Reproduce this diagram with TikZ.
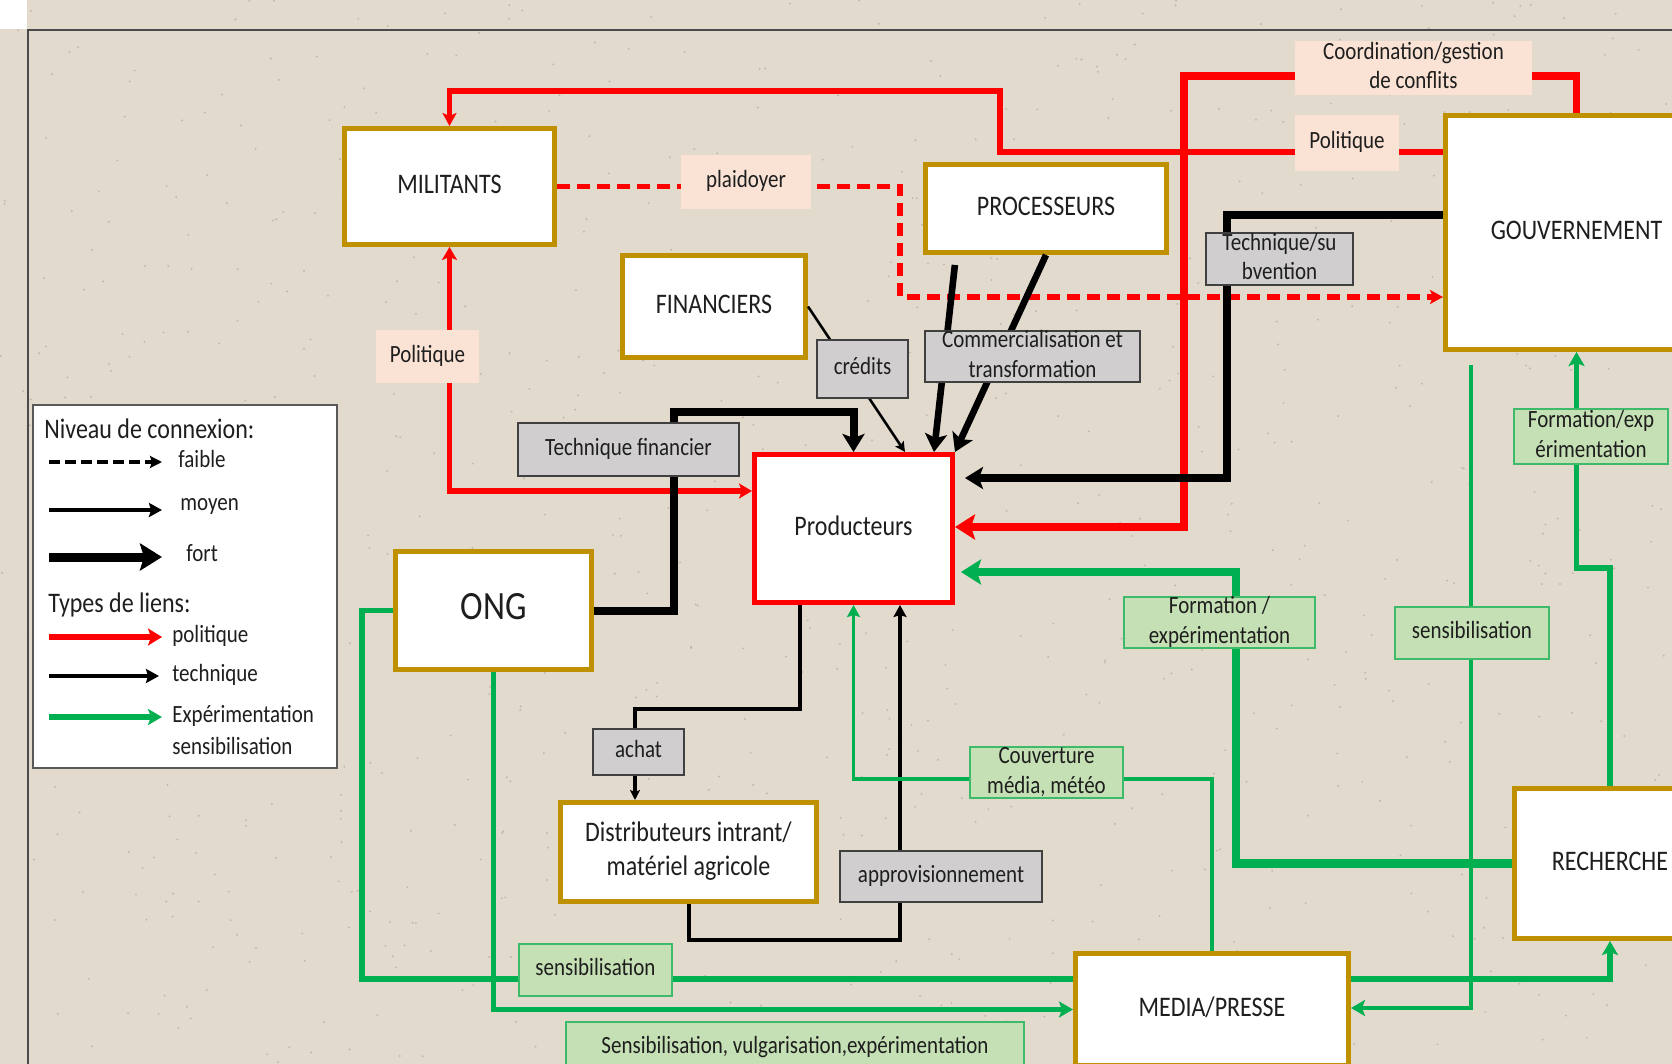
\documentclass[tikz,border=0pt]{standalone}
\usepackage{fontspec}
\setmainfont{Carlito}
\usepackage{graphicx}
\usetikzlibrary{arrows.meta,calc}
\definecolor{bg}{HTML}{E2DACD}
\definecolor{speck}{HTML}{A89E8E}
\definecolor{framec}{HTML}{4A4A4A}
\definecolor{gold}{HTML}{BF9000}
\definecolor{redc}{HTML}{FF0000}
\definecolor{grc}{HTML}{00B050}
\definecolor{peach}{HTML}{FAE3D5}
\definecolor{lgray}{HTML}{D0CECE}
\definecolor{dgray}{HTML}{404040}
\definecolor{lgreen}{HTML}{C5E0B4}
\definecolor{mgreen}{HTML}{3DBB6A}
\definecolor{txt}{HTML}{1E1E1E}
\definecolor{legb}{HTML}{595959}
\newcommand\vt[1]{\scalebox{1}[1.18]{\begin{tabular}{@{}c@{}}#1\end{tabular}}}
\tikzset{
  box/.style={draw=gold, line width=2.5pt, fill=white, inner sep=0pt, text=txt,
    font=\fontsize{12}{14.4}\selectfont},
  redbox/.style={box, draw=redc},
  labtxt/.style={inner sep=0pt, text=txt, font=\fontsize{10.5}{12.6}\selectfont},
  redlab/.style={fill=peach, inner sep=0pt},
  graylab/.style={fill=lgray, draw=dgray, line width=1.4pt, inner sep=0pt},
  greenlab/.style={fill=lgreen, draw=mgreen, line width=1.4pt, inner sep=0pt},
  legtxt/.style={inner sep=0pt, anchor=west, text=txt, font=\fontsize{10.5}{12.6}\selectfont},
  leghead/.style={legtxt, font=\fontsize{12}{14.4}\selectfont},
  polmed/.style={draw=redc, line width=2.6pt},
  polthick/.style={draw=redc, line width=3.8pt},
  techthick/.style={draw=black, line width=4pt},
  techcomm/.style={draw=black, line width=3.3pt},
  techmed/.style={draw=black, line width=2pt},
  techthin/.style={draw=black, line width=1.3pt},
  grthick/.style={draw=grc, line width=4.2pt},
  grmed/.style={draw=grc, line width=2.6pt},
  grthin/.style={draw=grc, line width=1.9pt},
  tipBL/.style={-{Stealth[length=9pt,width=11pt,inset=2pt]}},
  tipRL/.style={-{Stealth[length=10pt,width=12.5pt,inset=2pt]}},
  tipRm/.style={-{Stealth[length=6.5pt,width=7pt,inset=1.5pt]}},
  tipRboth/.style={{Stealth[length=6.5pt,width=7.5pt,inset=1.5pt]}-{Stealth[length=6.5pt,width=7.5pt,inset=1.5pt]}},
  tipGm/.style={-{Stealth[length=7pt,width=8pt,inset=1.5pt]}},
  tipS/.style={-{Stealth[length=6pt,width=6.5pt,inset=1pt]}},
  tipXS/.style={-{Stealth[length=5pt,width=5pt,inset=1pt]}},
}
\begin{document}
\begin{tikzpicture}[x=0.5pt,y=-0.5pt]
\useasboundingbox (0,0) rectangle (1672,1064);
\clip (0,0) rectangle (1672,1064);
% background
\fill[bg] (0,0) rectangle (1672,1064);
\pgfmathsetseed{4242}
\foreach \i in {1,...,900}{\fill[speck, opacity=0.55] ({rnd*1672},{rnd*1064}) circle (0.55pt);}
\fill[white] (0,0) rectangle (27,29);
\draw[framec, line width=1pt] (28,1064) -- (28,30) -- (1672,30);

% main boxes
\node[box, minimum width=105pt, minimum height=58pt] (mil) at (449.5,186.5) {\vt{MILITANTS}};
\node[box, minimum width=91.5pt, minimum height=51pt] (fin) at (714,306.5) {\vt{FINANCIERS}};
\node[box, minimum width=120.5pt, minimum height=44pt] (proc) at (1046,208.5) {\vt{PROCESSEURS}};
\node[box, minimum width=131pt, minimum height=117pt] (gouv) at (1576.5,232.5) {\vt{GOUVERNEMENT}};
\node[redbox, minimum width=99pt, minimum height=74pt] (prod) at (853.5,528.5) {\vt{Producteurs}};
\node[box, minimum width=98pt, minimum height=59pt, font=\fontsize{17}{20}\selectfont] (ong) at (493.5,610.5) {\vt{ONG}};
\node[box, minimum width=128pt, minimum height=49.5pt] (dist) at (688.5,852) {\vt{Distributeurs intrant/\\mat\'eriel agricole}};
\node[box, minimum width=136.5pt, minimum height=56pt] (media) at (1212,1009.5) {\vt{MEDIA/PRESSE}};
\node[box, minimum width=95.5pt, minimum height=75pt] (rech) at (1610,863.5) {\vt{RECHERCHE}};

% connectors: politique (red)
\coordinate (c1) at (1000,152);
\coordinate (c2) at (1000,91);
\coordinate (c3) at (449.5,91);
\draw[polmed, tipRm] (gouv.west |- c1) -- (c1) -- (c2) -- (c3) -- (mil.north);
\coordinate (c4) at (1576.5,76);
\coordinate (c5) at (1184,76);
\coordinate (c6) at (1184,527);
\draw[polthick, tipRL] (gouv.north) -- (c4) -- (c5) -- (c6) -- (c6 -| prod.east);
\coordinate (c7) at (449.5,491);
\draw[polmed, tipRboth] (mil.south) -- (c7) -- (c7 -| prod.west);
\coordinate (c8) at (900,186.5);
\coordinate (c9) at (900,297);
\draw[polmed, tipRm, dash pattern=on 6.5pt off 3.5pt] (mil.east) -- (c8) -- (c9) -- (c9 -| gouv.west);

% connectors: technique (black)
\coordinate (c10) at (674,610.5);
\coordinate (c11) at (674,412);
\coordinate (c12) at (853.5,412);
\draw[techthick, tipBL] (ong.east) -- (c10) -- (c11) -- (c12) -- (prod.north);
\coordinate (c13) at (905,452);
\draw[techthin, tipXS] (fin.east) -- (prod.north -| c13);
\coordinate (c14) at (956,255);
\coordinate (c15) at (934,452);
\draw[techcomm, tipBL, shorten <=5pt] (proc.south -| c14) -- (prod.north -| c15);
\draw[techcomm, tipBL] (proc.south) -- (prod.north east);
\coordinate (c16) at (1227,215);
\coordinate (c17) at (1227,478);
\draw[techthick, tipBL, shorten >=5pt] (gouv.west |- c16) -- (c16) -- (c17) -- (c17 -| prod.east);
\coordinate (c29) at (688.5,940);
\coordinate (c30) at (900,940);
\draw[techmed, tipS] (dist.south) -- (c29) -- (c30) -- (prod.south -| c30);
\coordinate (c31) at (800,709);
\coordinate (c32) at (635,709);
\draw[techmed, tipXS] (prod.south -| c31) -- (c31) -- (c32) -- (dist.north -| c32);

% connectors: experimentation / sensibilisation (green)
\coordinate (c18) at (1236,863.5);
\coordinate (c19) at (1236,572);
\draw[grthick, tipRL, shorten >=3pt] (rech.west) -- (c18) -- (c19) -- (c19 -| prod.east);
\coordinate (c20) at (1610,568);
\coordinate (c21) at (1576.5,568);
\draw[grmed, tipGm] (rech.north) -- (c20) -- (c21) -- (gouv.south);
\coordinate (c22) at (1471,1008);
\draw[grthin, tipGm, shorten <=6.5pt] (gouv.south -| c22) -- (c22) -- (c22 -| media.east);
\coordinate (c23) at (1610,979);
\draw[grmed, tipGm] (media.east |- c23) -- (c23) -- (rech.south);
\coordinate (c24) at (362,610.5);
\coordinate (c25) at (362,979);
\draw[grmed] (ong.west) -- (c24) -- (c25) -- (c25 -| media.west);
\coordinate (c26) at (493.5,1009.5);
\draw[grmed, tipGm] (ong.south) -- (c26) -- (media.west);
\coordinate (c27) at (1212,779);
\coordinate (c28) at (853.5,779);
\draw[grthin, tipS] (media.north) -- (c27) -- (c28) -- (prod.south);

% edge labels
\node[redlab, minimum width=51.5pt, minimum height=26.5pt, label={[labtxt]center:{\vt{Politique}}}] (lpol1) at (427.5,356.5) {};
\node[redlab, minimum width=65pt, minimum height=27pt, label={[labtxt]center:{\vt{plaidoyer}}}] (lplai) at (746,182) {};
\node[redlab, minimum width=52pt, minimum height=28pt, label={[labtxt]center:{\vt{Politique}}}] (lpol2) at (1347,143) {};
\node[redlab, minimum width=118.5pt, minimum height=27pt, label={[labtxt]center:{\vt{Coordination/gestion\\de conflits}}}] (lcoord) at (1413.5,68) {};

\node[graylab, minimum width=110.5pt, minimum height=26.5pt, label={[labtxt]center:{\vt{Technique financier}}}] (ltf) at (628.5,449.5) {};
\node[graylab, minimum width=45.5pt, minimum height=29pt, label={[labtxt]center:{\vt{cr\'edits}}}] (lcred) at (862.5,369) {};
\node[graylab, minimum width=107.5pt, minimum height=25.5pt, label={[labtxt]center:{\vt{Commercialisation et\\transformation}}}] (lcomm) at (1032.5,356.5) {};
\node[graylab, minimum width=73.5pt, minimum height=26pt, label={[labtxt]center:{\vt{Technique/su\\bvention}}}] (ltsub) at (1279.5,259) {};
\node[graylab, minimum width=45.5pt, minimum height=23pt, label={[labtxt]center:{\vt{achat}}}] (lachat) at (638.5,752) {};
\node[graylab, minimum width=101pt, minimum height=25.5pt, label={[labtxt]center:{\vt{approvisionnement}}}] (lappro) at (941,876.5) {};

\node[greenlab, minimum width=95.5pt, minimum height=25.5pt, label={[labtxt]center:{\vt{Formation /\\exp\'erimentation}}}] (lform1) at (1219.5,622.5) {};
\node[greenlab, minimum width=77pt, minimum height=26pt, label={[labtxt]center:{\vt{sensibilisation}}}] (lsens1) at (1472,633) {};
\node[greenlab, minimum width=77pt, minimum height=27.5pt, label={[labtxt]center:{\vt{Formation/exp\\\'erimentation}}}] (lform2) at (1591,436.5) {};
\node[greenlab, minimum width=76.5pt, minimum height=25.5pt, label={[labtxt]center:{\vt{Couverture\\m\'edia, m\'et\'eo}}}] (lcouv) at (1046.5,772.5) {};
\node[greenlab, minimum width=76.5pt, minimum height=26pt, label={[labtxt]center:{\vt{sensibilisation}}}] (lsens2) at (595.5,970) {};
\node[greenlab, minimum width=229pt, minimum height=26pt, label={[labtxt]center:{\vt{Sensibilisation, vulgarisation,exp\'erimentation}}}] (lsvex) at (795,1048) {};

% legend
\node[draw=legb, line width=1.3pt, fill=white, minimum width=152pt, minimum height=181.5pt, inner sep=0pt] (leg) at (185,586.5) {};
\node[leghead] (lgh1) at (44,432) {\vt{Niveau de connexion:}};
\coordinate (la1) at (49,462); \coordinate (lb1) at (162,462);
\draw[black, line width=2pt, dash pattern=on 5.5pt off 2.5pt, -{Stealth[length=6pt,width=6pt,inset=1pt]}] (la1) -- (lb1);
\node[legtxt] (lgt1) at (178,462) {\vt{faible}};
\coordinate (la2) at (49,510); \coordinate (lb2) at (162,510);
\draw[black, line width=2pt, -{Stealth[length=6.5pt,width=7pt,inset=1pt]}] (la2) -- (lb2);
\node[legtxt] (lgt2) at (180,505) {\vt{moyen}};
\coordinate (la3) at (49,557); \coordinate (lb3) at (162,557);
\draw[black, line width=4.5pt, -{Stealth[length=11pt,width=13.5pt,inset=2pt]}] (la3) -- (lb3);
\node[legtxt] (lgt3) at (186,556) {\vt{fort}};
\node[leghead] (lgh2) at (48,606) {\vt{Types de liens:}};
\coordinate (la4) at (49,637); \coordinate (lb4) at (162,637);
\draw[redc, line width=2.6pt, -{Stealth[length=7pt,width=8.5pt,inset=1.5pt]}] (la4) -- (lb4);
\node[legtxt] (lgt4) at (172,637) {\vt{politique}};
\coordinate (la5) at (49,676); \coordinate (lb5) at (159,676);
\draw[black, line width=2pt, -{Stealth[length=6.5pt,width=7pt,inset=1pt]}] (la5) -- (lb5);
\node[legtxt] (lgt5) at (172,676) {\vt{technique}};
\coordinate (la6) at (49,717); \coordinate (lb6) at (162,717);
\draw[grc, line width=2.6pt, -{Stealth[length=7pt,width=8pt,inset=1.5pt]}] (la6) -- (lb6);
\node[legtxt] (lgt6) at (172,717) {\vt{Exp\'erimentation}};
\node[legtxt] (lgt7) at (172,749) {\vt{sensibilisation}};
\end{tikzpicture}
\end{document}
